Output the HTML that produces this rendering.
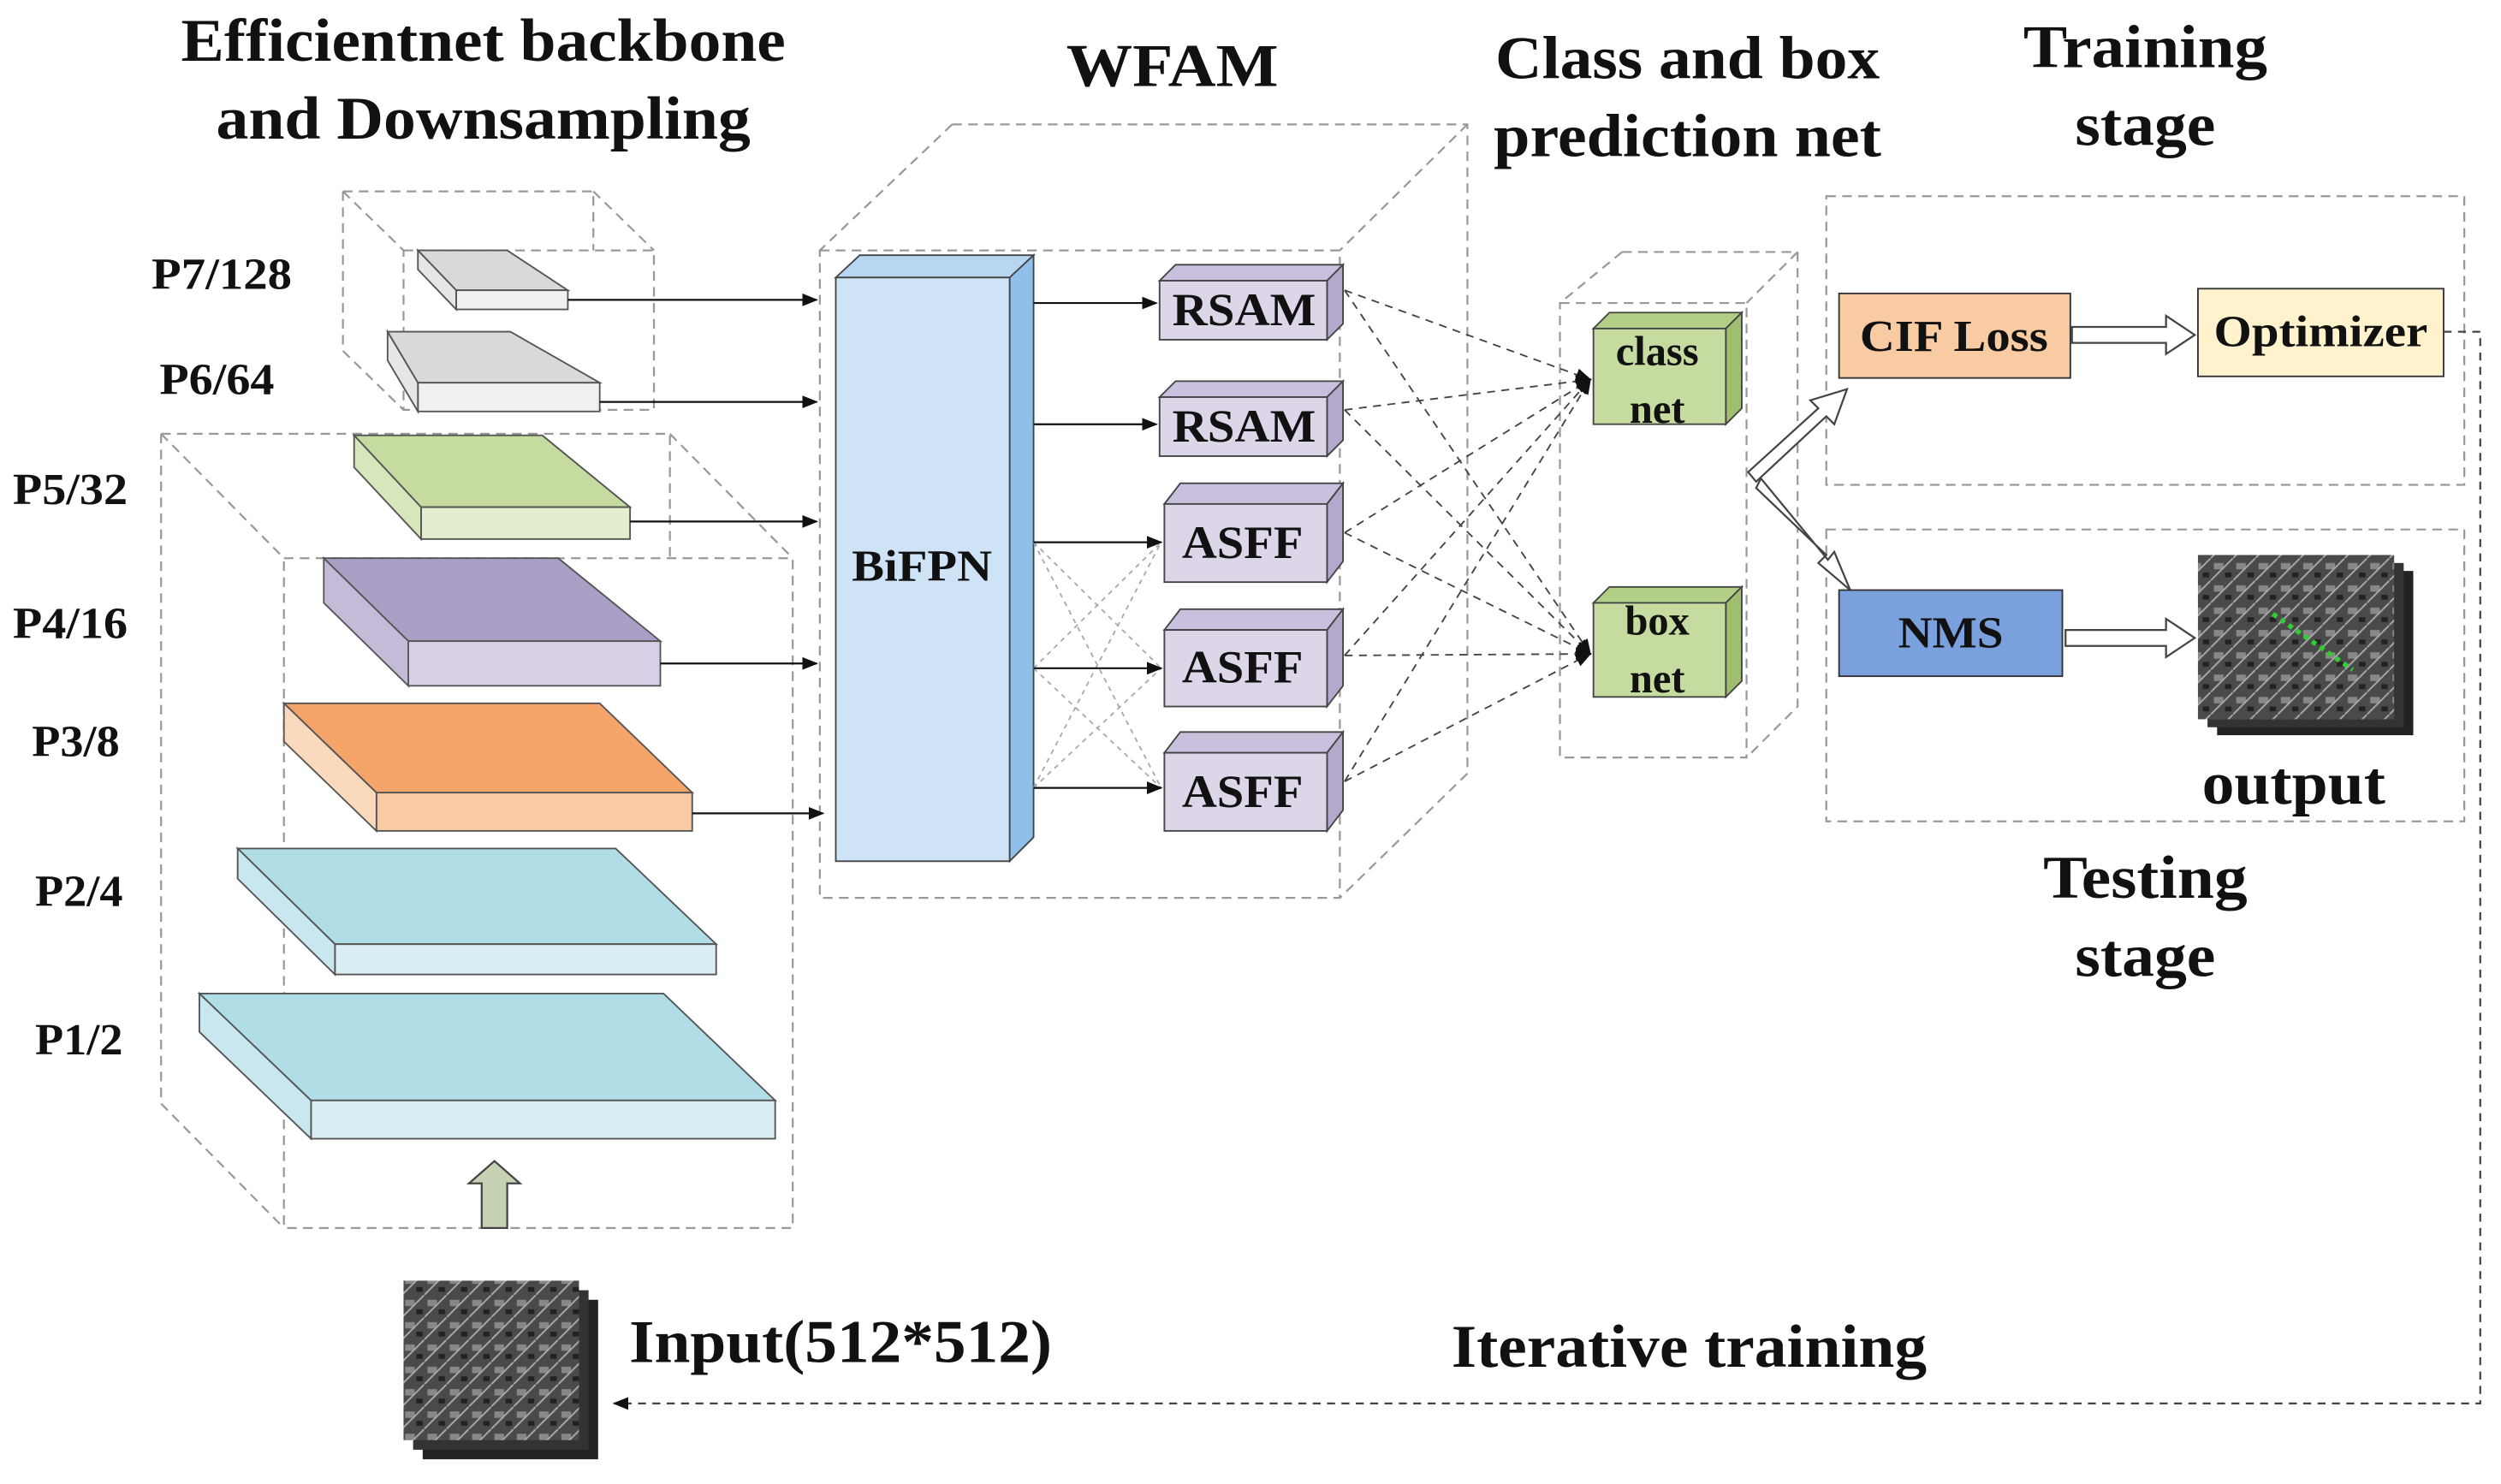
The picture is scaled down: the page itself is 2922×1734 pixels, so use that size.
<!DOCTYPE html>
<html><head><meta charset="utf-8"><style>
html,body{margin:0;padding:0;background:#fff;}
svg{display:block;}
text{font-family:"Liberation Serif",serif;font-weight:bold;fill:#111;}
</style></head><body>
<svg width="2922" height="1734" viewBox="0 0 1568 930.5" preserveAspectRatio="none" xmlns="http://www.w3.org/2000/svg">
<defs>
<marker id="a" markerWidth="10" markerHeight="8" refX="9" refY="4" orient="auto" markerUnits="userSpaceOnUse"><path d="M0,0 L10,4 L0,8 z" fill="#111"/></marker>
<pattern id="img" width="14" height="14" patternUnits="userSpaceOnUse"><rect width="14" height="14" fill="#4a4a4a"/><rect x="2" y="3" width="6" height="4" fill="#888"/><rect x="9" y="9" width="4" height="3" fill="#222"/><line x1="0" y1="14" x2="14" y2="0" stroke="#aaa" stroke-width="1"/></pattern>
</defs>
<g fill="none" stroke="#999" stroke-width="1.2" stroke-dasharray="6,4">
<rect x="253" y="157" width="157" height="100"/><path d="M215,120 H372 V157 M215,120 V220 L253,257 M215,120 L253,157 M372,120 L410,157"/>
<rect x="178" y="350" width="319" height="420"/><path d="M101,272 H420 V350 M101,272 V692 L178,770 M101,272 L178,350 M420,272 L497,350"/>
<rect x="514" y="157" width="326" height="406"/><path d="M597,78 H920 V485 L840,563 M597,78 L514,157 M920,78 L840,157"/>
<rect x="978" y="190" width="117" height="285"/><path d="M1017,158 H1127 V443 L1095,475 M1017,158 L978,190 M1127,158 L1095,190"/>
<rect x="1145" y="123" width="400" height="181"/><rect x="1145" y="332" width="400" height="183"/>
</g>
<g stroke="#555" stroke-width="1">
<polygon points="262,157 318,157 356,182 286,182" fill="#d9d9d9"/><rect x="286" y="182" width="70" height="12" fill="#f0f0f0"/><polygon points="262,157 286,182 286,194 262,169" fill="#e6e6e6"/>
<polygon points="243,208 320,208 376,240 262,240" fill="#d9d9d9"/><rect x="262" y="240" width="114" height="18" fill="#f0f0f0"/><polygon points="243,208 262,240 262,258 243,226" fill="#e6e6e6"/>
<polygon points="222,273 340,273 395,318 264,318" fill="#c5dba0"/><rect x="264" y="318" width="131" height="20" fill="#e2eecf"/><polygon points="222,273 264,318 264,338 222,293" fill="#d6e7bb"/>
<polygon points="203,350 350,350 414,402 256,402" fill="#ac9fc6"/><rect x="256" y="402" width="158" height="28" fill="#d7cfe6"/><polygon points="203,350 256,402 256,430 203,378" fill="#c5bbd9"/>
<polygon points="178,441 376,441 434,497 236,497" fill="#f5a46a"/><rect x="236" y="497" width="198" height="24" fill="#f9cba3"/><polygon points="178,441 236,497 236,521 178,465" fill="#fbd9bd"/>
<polygon points="149,532 386,532 449,592 210,592" fill="#b0dde6"/><rect x="210" y="592" width="239" height="19" fill="#d9eff3"/><polygon points="149,532 210,592 210,611 149,551" fill="#c8e7ee"/>
<polygon points="125,623 416,623 486,690 195,690" fill="#b0dde6"/><rect x="195" y="690" width="291" height="24" fill="#d9eff3"/><polygon points="125,623 195,690 195,714 125,647" fill="#c8e7ee"/>
</g>
<g stroke="#111" stroke-width="1.2" marker-end="url(#a)">
<line x1="356" y1="188" x2="512" y2="188"/><line x1="376" y1="252" x2="512" y2="252"/><line x1="395" y1="327" x2="512" y2="327"/><line x1="414" y1="416" x2="512" y2="416"/><line x1="434" y1="510" x2="516" y2="510"/>
</g>
<polygon points="524,174 539,160 648,160 633,174" fill="#b8d6f2" stroke="#444"/>
<polygon points="633,174 648,160 648,525 633,540" fill="#8fc0ec" stroke="#444"/>
<rect x="524" y="174" width="109" height="366" fill="#cfe3f6" stroke="#444"/>
<text x="578" y="364" font-size="28" text-anchor="middle" textLength="88" lengthAdjust="spacingAndGlyphs">BiFPN</text>
<g stroke="#aaa" stroke-width="1" stroke-dasharray="3,3">
<path d="M648,340 L728,419 M648,340 L728,494 M648,419 L728,340 M648,419 L728,494 M648,494 L728,340 M648,494 L728,419"/>
</g>
<g stroke="#111" stroke-width="1.2" marker-end="url(#a)">
<line x1="648" y1="190" x2="725" y2="190"/><line x1="648" y1="266" x2="725" y2="266"/><line x1="648" y1="340" x2="728" y2="340"/><line x1="648" y1="419" x2="728" y2="419"/><line x1="648" y1="494" x2="728" y2="494"/>
</g>
<g stroke="#444" stroke-width="1">
<g><polygon points="727,176 737,166 842,166 832,176" fill="#c8c0dc"/><polygon points="832,176 842,166 842,203 832,213" fill="#b4a9cc"/><rect x="727" y="176" width="105" height="37" fill="#dcd6e8"/></g>
<g><polygon points="727,249 737,239 842,239 832,249" fill="#c8c0dc"/><polygon points="832,249 842,239 842,276 832,286" fill="#b4a9cc"/><rect x="727" y="249" width="105" height="37" fill="#dcd6e8"/></g>
<g><polygon points="730,316 740,303 842,303 832,316" fill="#c8c0dc"/><polygon points="832,316 842,303 842,352 832,365" fill="#b4a9cc"/><rect x="730" y="316" width="102" height="49" fill="#dcd6e8"/></g>
<g><polygon points="730,395 740,382 842,382 832,395" fill="#c8c0dc"/><polygon points="832,395 842,382 842,430 832,443" fill="#b4a9cc"/><rect x="730" y="395" width="102" height="48" fill="#dcd6e8"/></g>
<g><polygon points="730,472 740,459 842,459 832,472" fill="#c8c0dc"/><polygon points="832,472 842,459 842,508 832,521" fill="#b4a9cc"/><rect x="730" y="472" width="102" height="49" fill="#dcd6e8"/></g>
</g>
<g font-size="29" text-anchor="middle">
<text x="780" y="204" textLength="90" lengthAdjust="spacingAndGlyphs">RSAM</text><text x="780" y="277" textLength="90" lengthAdjust="spacingAndGlyphs">RSAM</text><text x="779" y="350" textLength="76" lengthAdjust="spacingAndGlyphs">ASFF</text><text x="779" y="428" textLength="76" lengthAdjust="spacingAndGlyphs">ASFF</text><text x="779" y="506" textLength="76" lengthAdjust="spacingAndGlyphs">ASFF</text>
</g>
<g stroke="#444" stroke-width="1" stroke-dasharray="5,4" marker-end="url(#a)">
<line x1="843" y1="182" x2="997" y2="238"/><line x1="843" y1="182" x2="997" y2="410"/>
<line x1="843" y1="257" x2="997" y2="238"/><line x1="843" y1="257" x2="997" y2="410"/>
<line x1="843" y1="334" x2="997" y2="238"/><line x1="843" y1="334" x2="997" y2="410"/>
<line x1="843" y1="411" x2="997" y2="238"/><line x1="843" y1="411" x2="997" y2="410"/>
<line x1="843" y1="490" x2="997" y2="238"/><line x1="843" y1="490" x2="997" y2="410"/>
</g>
<g stroke="#444" stroke-width="1">
<polygon points="999,206 1009,196 1092,196 1082,206" fill="#b3cf86"/><polygon points="1082,206 1092,196 1092,256 1082,266" fill="#9fbf6e"/><rect x="999" y="206" width="83" height="60" fill="#c5dba0"/>
<polygon points="999,378 1009,368 1092,368 1082,378" fill="#b3cf86"/><polygon points="1082,378 1092,368 1092,427 1082,437" fill="#9fbf6e"/><rect x="999" y="378" width="83" height="59" fill="#c5dba0"/>
</g>
<g font-size="26" text-anchor="middle"><text x="1039" y="229">class</text><text x="1039" y="265">net</text><text x="1039" y="398">box</text><text x="1039" y="434">net</text></g>
<g fill="#fff" stroke="#444" stroke-width="1.2">
<polygon points="1096,296 1140,256 1135,251 1158,244 1150,266 1145,261 1101,302"/>
<polygon points="1101,306 1145,348 1140,353 1160,370 1150,346 1146,351 1104,300"/>
<polygon points="1299,205 1358,205 1358,198 1376,210 1358,222 1358,215 1299,215"/>
<polygon points="1295,395 1358,395 1358,388 1376,400 1358,412 1358,405 1295,405"/>
<polygon points="302,770 302,742 294,742 310,728 326,742 318,742 318,770" fill="#c5d3b4"/>
</g>
<rect x="1153" y="184" width="145" height="53" fill="#f9cba3" stroke="#333"/>
<rect x="1378" y="181" width="154" height="55" fill="#fff2cc" stroke="#333"/>
<rect x="1153" y="370" width="140" height="54" fill="#7ba0de" stroke="#333"/>
<g font-size="28" text-anchor="middle"><text x="1225" y="220" textLength="118" lengthAdjust="spacingAndGlyphs">CIF Loss</text><text x="1455" y="217" textLength="134" lengthAdjust="spacingAndGlyphs">Optimizer</text><text x="1223" y="406" textLength="66" lengthAdjust="spacingAndGlyphs">NMS</text></g>
<rect x="1390" y="358" width="123" height="103" fill="#222"/><rect x="1384" y="353" width="123" height="103" fill="#333"/><rect x="1378" y="348" width="123" height="103" fill="url(#img)"/>
<line x1="1425" y1="385" x2="1475" y2="420" stroke="#3c3" stroke-width="3" stroke-dasharray="3,3"/>
<rect x="265" y="815" width="110" height="100" fill="#222"/><rect x="259" y="809" width="110" height="100" fill="#333"/><rect x="253" y="803" width="110" height="100" fill="url(#img)"/>
<path d="M1532,208 H1555 V880 H385" fill="none" stroke="#444" stroke-width="1.2" stroke-dasharray="5,4" marker-end="url(#a)"/>
<g font-size="38" text-anchor="middle">
<text x="303" y="38" textLength="379" lengthAdjust="spacingAndGlyphs">Efficientnet backbone</text><text x="303" y="87" textLength="335" lengthAdjust="spacingAndGlyphs">and Downsampling</text>
<text x="735" y="54" textLength="133" lengthAdjust="spacingAndGlyphs">WFAM</text>
<text x="1058" y="49" textLength="241" lengthAdjust="spacingAndGlyphs">Class and box</text><text x="1058" y="98" textLength="243" lengthAdjust="spacingAndGlyphs">prediction net</text>
<text x="1345" y="42" textLength="153" lengthAdjust="spacingAndGlyphs">Training</text><text x="1345" y="91" textLength="88" lengthAdjust="spacingAndGlyphs">stage</text>
<text x="1345" y="563" textLength="128" lengthAdjust="spacingAndGlyphs">Testing</text><text x="1345" y="612" textLength="88" lengthAdjust="spacingAndGlyphs">stage</text>
<text x="1438" y="504" textLength="115" lengthAdjust="spacingAndGlyphs">output</text>
<text x="527" y="854" textLength="265" lengthAdjust="spacingAndGlyphs">Input(512*512)</text>
<text x="1059" y="857" textLength="298" lengthAdjust="spacingAndGlyphs">Iterative training</text>
</g>
<g font-size="28">
<text x="95" y="181" textLength="88" lengthAdjust="spacingAndGlyphs">P7/128</text><text x="100" y="247" textLength="72" lengthAdjust="spacingAndGlyphs">P6/64</text><text x="8" y="316" textLength="72" lengthAdjust="spacingAndGlyphs">P5/32</text><text x="8" y="400" textLength="72" lengthAdjust="spacingAndGlyphs">P4/16</text><text x="20" y="474" textLength="55" lengthAdjust="spacingAndGlyphs">P3/8</text><text x="22" y="568" textLength="55" lengthAdjust="spacingAndGlyphs">P2/4</text><text x="22" y="661" textLength="55" lengthAdjust="spacingAndGlyphs">P1/2</text>
</g>
</svg>
</body></html>
